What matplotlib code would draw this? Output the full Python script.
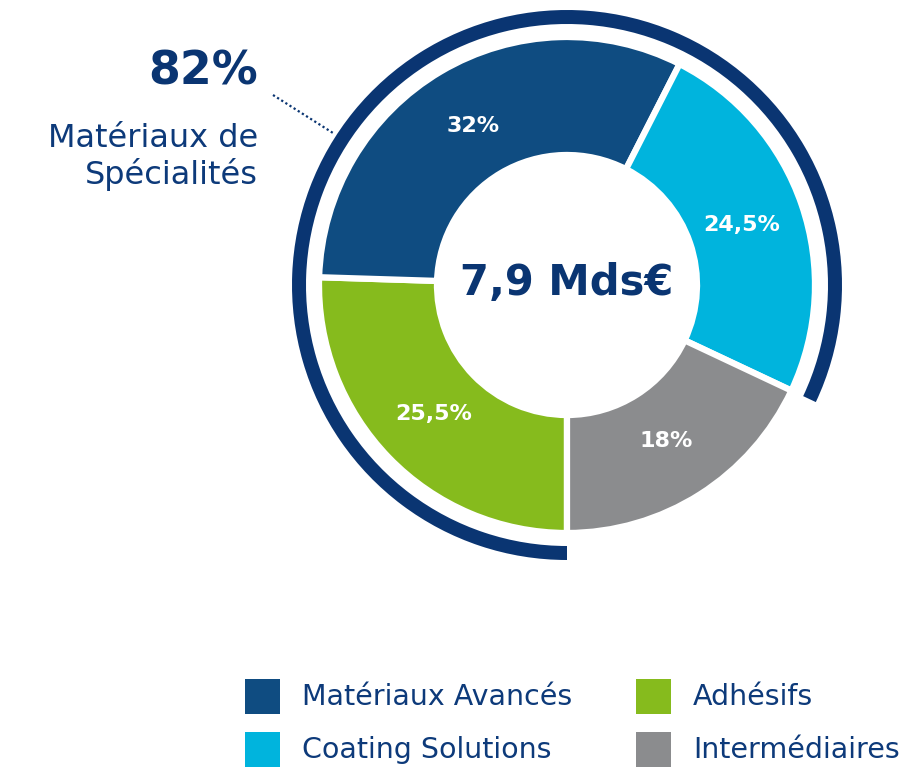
import matplotlib.pyplot as plt
from matplotlib.patches import Wedge, Rectangle
import numpy as np

# pie order: clockwise starting at 6 o'clock
segments = ["Adhésifs", "Matériaux Avancés", "Coating Solutions", "Intermédiaires"]
shares = [25.5, 32, 24.5, 18]
share_labels = ["25,5%", "32%", "24,5%", "18%"]
colors = ["#86bb1d", "#0f4c81", "#00b4dd", "#8b8c8e"]

specialty = ["Adhésifs", "Matériaux Avancés", "Coating Solutions"]
specialty_label = "82%"
specialty_name = "Matériaux de\nSpécialités"
total_label = "7,9 Mds€"

legend_order = ["Matériaux Avancés", "Coating Solutions", "Adhésifs", "Intermédiaires"]

NAVY = "#0a3572"
TEXT = "#0d3a7a"

W, H = 915, 773
fig = plt.figure(figsize=(W / 100, H / 100), dpi=100)
ax = fig.add_axes([0, 0, 1, 1])

cx, cy = 567, H - 285
r_out, r_in = 248, 130

wedges, _ = ax.pie(
    shares,
    colors=colors,
    startangle=-90,
    counterclock=False,
    radius=r_out,
    center=(cx, cy),
    wedgeprops=dict(width=r_out - r_in, edgecolor="white", linewidth=4.5),
)

# percentage labels at mid-ring
r_mid = (r_out + r_in) / 2 - 4
for w, lab in zip(wedges, share_labels):
    ang = np.deg2rad((w.theta1 + w.theta2) / 2)
    ax.text(cx + r_mid * np.cos(ang), cy + r_mid * np.sin(ang), lab,
            ha="center", va="center", color="white", fontsize=16, fontweight="bold")

# outer ring covering the specialty segments
spec_sum = sum(s for n, s in zip(segments, shares) if n in specialty)
ring_start = 270
ring_end = ring_start - 360 * spec_sum / 100
ax.add_patch(Wedge((cx, cy), 275, ring_end, ring_start, width=14,
                   facecolor=NAVY, edgecolor="none"))

ax.text(cx, cy + 2, total_label, ha="center", va="center", color=NAVY,
        fontsize=30, fontweight="bold")

# specialty annotation
ax.text(258, H - 72, specialty_label, ha="right", va="center", color=NAVY,
        fontsize=33, fontweight="bold")
ax.text(258, H - 157, specialty_name, ha="right", va="center", color=TEXT,
        fontsize=23, linespacing=1.15)
ax.plot([273, 333], [H - 95, H - 133], linestyle=(0, (1, 1.2)), color=NAVY, lw=1.6)

# legend
leg_x = [245, 636]
leg_y = [H - 697, H - 750]
for i, name in enumerate(legend_order):
    col, row = divmod(i, 2)
    c = colors[segments.index(name)]
    x0, y0 = leg_x[col], leg_y[row]
    ax.add_patch(Rectangle((x0, y0 - 17), 35, 35, facecolor=c, edgecolor="none"))
    ax.text(x0 + 57, y0, name, ha="left", va="center", color=TEXT, fontsize=20.5)

ax.set_xlim(0, W)
ax.set_ylim(0, H)
ax.set_aspect("equal")
ax.axis("off")

fig.savefig("out.png", dpi=100)
